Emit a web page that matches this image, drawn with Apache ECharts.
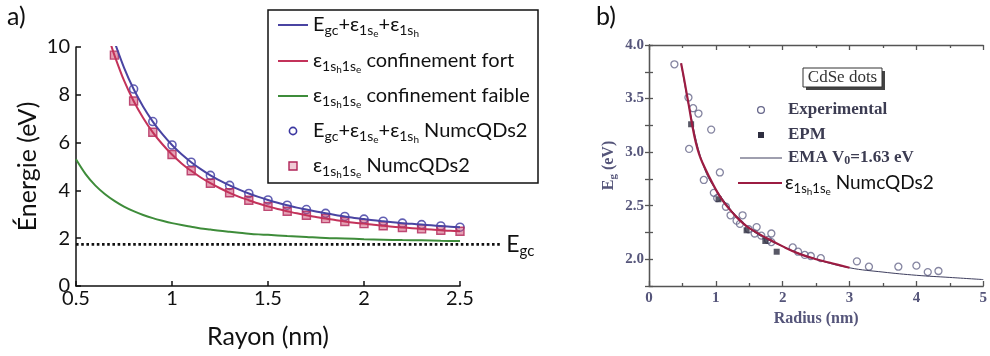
<!DOCTYPE html>
<html><head><meta charset="utf-8">
<script src="https://cdn.jsdelivr.net/npm/echarts@6/dist/echarts.min.js"></script>
<style>html,body{margin:0;padding:0;background:#fff}#c{width:990px;height:356px}</style>
</head><body><div id="c"></div>
<script>
// ---------- Panel a data ----------
const rayonCourbe = [0.68,0.70,0.75,0.80,0.85,0.90,0.95,1.00,1.05,1.10,1.15,1.20,1.25,1.30,1.35,1.40,1.45,1.50,1.55,1.60,1.65,1.70,1.75,1.80,1.85,1.90,1.95,2.00,2.05,2.10,2.15,2.20,2.25,2.30,2.35,2.40,2.45,2.50];
const eTotalCourbe = [10.74,10.23,9.14,8.24,7.50,6.88,6.35,5.90,5.51,5.18,4.89,4.63,4.41,4.21,4.03,3.87,3.73,3.60,3.48,3.38,3.28,3.20,3.12,3.04,2.97,2.91,2.85,2.80,2.75,2.71,2.67,2.63,2.60,2.57,2.54,2.51,2.48,2.46];
const eFortCourbe = [10.15,9.66,8.60,7.74,7.03,6.43,5.93,5.50,5.13,4.82,4.54,4.30,4.09,3.90,3.73,3.59,3.45,3.33,3.22,3.13,3.04,2.96,2.89,2.82,2.76,2.70,2.65,2.61,2.56,2.52,2.48,2.45,2.42,2.39,2.36,2.33,2.31,2.29];
const rayonFaible = [0.50,0.55,0.60,0.65,0.70,0.75,0.80,0.85,0.90,0.95,1.00,1.05,1.10,1.15,1.20,1.25,1.30,1.35,1.40,1.45,1.50,1.60,1.70,1.80,1.90,2.00,2.10,2.20,2.30,2.40,2.50];
const eFaibleCourbe = [5.30,4.68,4.21,3.85,3.56,3.32,3.13,2.97,2.84,2.73,2.63,2.55,2.48,2.41,2.36,2.31,2.27,2.23,2.19,2.16,2.14,2.09,2.05,2.01,1.99,1.96,1.94,1.92,1.91,1.89,1.88];
const rayonPoints = [0.7,0.8,0.9,1.0,1.1,1.2,1.3,1.4,1.5,1.6,1.7,1.8,1.9,2.0,2.1,2.2,2.3,2.4,2.5];
const eTotalPoints = [null,8.24,6.88,5.90,5.18,4.63,4.21,3.87,3.60,3.38,3.20,3.04,2.91,2.80,2.71,2.63,2.57,2.51,2.46];
const eFortPoints = [9.66,7.74,6.43,5.50,4.82,4.30,3.90,3.59,3.33,3.13,2.96,2.82,2.70,2.61,2.52,2.45,2.39,2.33,2.29];
const EGC = 1.74;
const egcRayon = [0.5, 2.72];

// ---------- Panel b data ----------
const rayonNumc = [0.48,0.52,0.56,0.60,0.65,0.70,0.75,0.80,0.90,1.00,1.10,1.20,1.30,1.40,1.50,1.75,2.00,2.25,2.50,2.75,3.00];
const egNumc = [3.83,3.70,3.56,3.42,3.24,3.09,2.98,2.90,2.77,2.65,2.55,2.47,2.40,2.34,2.29,2.20,2.12,2.05,2.00,1.96,1.92];
const rayonEMA = [0.48,0.60,0.80,1.00,1.50,2.00,2.50,3.00,3.50,4.00,4.50,5.00];
const egEMA = [3.83,3.42,2.90,2.65,2.29,2.12,2.00,1.92,1.88,1.85,1.83,1.81];
const expRayon = [0.38,0.59,0.66,0.74,0.93,0.60,1.06,0.82,0.97,1.02,1.15,1.22,1.31,1.40,1.36,1.49,1.61,1.58,1.68,1.83,1.78,1.83,2.15,2.23,2.33,2.42,2.57,3.11,3.29,3.73,4.00,4.17,4.33];
const expEg = [3.82,3.51,3.41,3.36,3.21,3.03,2.81,2.74,2.62,2.57,2.49,2.41,2.36,2.41,2.33,2.28,2.30,2.24,2.22,2.24,2.18,2.16,2.11,2.07,2.04,2.03,2.01,1.98,1.93,1.93,1.94,1.88,1.89];
const epmRayon = [0.63,1.04,1.46,1.74,1.91];
const epmEg = [3.26,2.56,2.27,2.17,2.07];

// tick labels
const xTicksA = [0.5,1,1.5,2,2.5];
const yTicksA = [0,2,4,6,8,10];
const xTicksB = [0,1,2,3,4,5];
const yTicksB = [2.0,2.5,3.0,3.5,4.0];

const pairs = (xs, ys) => xs.map((x, i) => [x, ys[i]]);

const SANS = 'Lato';
const SERIF = 'Liberation Serif';
const bCol = '#55557a';

const C_TOT = '#4a44a2', C_FORT = '#c3325a', C_FAIB = '#3e8c3a';
const C_CIR = '#3b37a0', C_SQ = '#b02458', SQ_FILL = 'rgba(200,60,100,0.6)';
const C_NUMC = '#9c1c42', C_EMA = '#3e3e5e', C_EXP = '#66668a', C_EPM = '#2e2e40';

const richA = {
  m: {fontFamily: SANS, fontSize: 20, lineHeight: 28, fill: '#111', verticalAlign: 'middle'},
  s: {fontFamily: SANS, fontSize: 14, lineHeight: 14, verticalAlign: 'bottom', padding: [0,0,2,0], fill: '#111'},
  ss: {fontFamily: SANS, fontSize: 10, lineHeight: 10, verticalAlign: 'bottom', padding: [0,0,0,0], fill: '#111'}
};
const eps = '{m|ε}{s|1s}{ss|h}{s|1s}{ss|e}';
const labelsA = [
  '{m|E}{s|gc}{m|+ε}{s|1s}{ss|e}{m|+ε}{s|1s}{ss|h}',
  eps + '{m| confinement fort}',
  eps + '{m| confinement faible}',
  '{m|E}{s|gc}{m|+ε}{s|1s}{ss|e}{m|+ε}{s|1s}{ss|h}{m| NumcQDs2}',
  eps + '{m| NumcQDs2}'
];
const richB = {
  b: {fontFamily: SERIF, fontWeight: 'bold', fontSize: 17, lineHeight: 22, fill: '#3c3c52'},
  bs: {fontFamily: SERIF, fontWeight: 'bold', fontSize: 12, lineHeight: 12, verticalAlign: 'bottom', padding: [0,0,2,0], fill: '#3c3c52'},
  m: {fontFamily: SANS, fontSize: 19, lineHeight: 28, fill: '#111'},
  s: {fontFamily: SANS, fontSize: 13, lineHeight: 13, verticalAlign: 'bottom', padding: [0,0,2,0], fill: '#111'},
  ss: {fontFamily: SANS, fontSize: 10, lineHeight: 10, verticalAlign: 'bottom', fill: '#111'}
};
const labelsB = [
  '{b|Experimental}',
  '{b|EPM}',
  '{b|EMA V}{bs|0}{b|=1.63 eV}',
  eps + '{m| NumcQDs2}'
];

// legend layout (pixels)
const rowsA = [25, 61, 96, 131, 166];
const rowsB = [110, 135, 158, 183];

const legendGraphics = [];
// panel a legend
legendGraphics.push({type: 'rect', shape: {x: 268, y: 10, width: 270, height: 173}, style: {fill: 'none', stroke: '#111', lineWidth: 1.5}, z: 1});
[C_TOT, C_FORT, C_FAIB].forEach((c, i) => legendGraphics.push({type: 'line', shape: {x1: 278, y1: rowsA[i], x2: 308, y2: rowsA[i]}, style: {stroke: c, lineWidth: 2}, z: 5}));
legendGraphics.push({type: 'circle', shape: {cx: 293, cy: rowsA[3], r: 3.6}, style: {fill: 'none', stroke: C_CIR, lineWidth: 1.6}, z: 5});
legendGraphics.push({type: 'rect', shape: {x: 289, y: rowsA[4] - 4, width: 8, height: 8}, style: {fill: 'rgba(205,80,115,0.3)', stroke: C_SQ, lineWidth: 1.4}, z: 5});
labelsA.forEach((t, i) => legendGraphics.push({type: 'text', x: 313, y: rowsA[i], z: 5, style: {text: t, rich: richA, verticalAlign: 'middle', align: 'left'}}));
// panel b legend
legendGraphics.push({type: 'circle', shape: {cx: 761, cy: rowsB[0], r: 3.4}, style: {fill: 'none', stroke: C_EXP, lineWidth: 1.3}, z: 5});
legendGraphics.push({type: 'rect', shape: {x: 758, y: rowsB[1] - 3, width: 6, height: 6}, style: {fill: C_EPM}, z: 5});
legendGraphics.push({type: 'line', shape: {x1: 740, y1: rowsB[2], x2: 782, y2: rowsB[2]}, style: {stroke: C_EMA, lineWidth: 1}, z: 5});
legendGraphics.push({type: 'line', shape: {x1: 738, y1: rowsB[3], x2: 782, y2: rowsB[3]}, style: {stroke: C_NUMC, lineWidth: 2.2}, z: 5});
labelsB.forEach((t, i) => legendGraphics.push({type: 'text', x: i === 3 ? 785 : 788, y: rowsB[i], z: 5, style: {text: t, rich: richB, verticalAlign: 'middle', align: 'left'}}));

const axA = {color: '#111', width: 1.5};
const axB = {color: '#555', width: 1.3};

const chart = echarts.init(document.getElementById('c'), null, {renderer: 'canvas'});
chart.setOption({
  animation: false,
  backgroundColor: '#fff',
  grid: [
    {left: 76, top: 47, width: 384, height: 239},
    {left: 649, top: 45, width: 339, height: 241},
    {left: 76, top: 47, width: 384 * (egcRayon[1] - 0.5) / 2, height: 239}
  ],
  xAxis: [
    {gridIndex: 0, type: 'value', min: 0.5, max: 2.5, interval: 0.5,
     axisLine: {lineStyle: axA}, axisTick: {inside: true, length: 5, lineStyle: axA},
     axisLabel: {fontFamily: SANS, fontSize: 20, color: '#111', margin: 3, customValues: xTicksA},
     splitLine: {show: false},
     name: 'Rayon (nm)', nameLocation: 'middle', nameGap: 38,
     nameTextStyle: {fontFamily: SANS, fontSize: 25, color: '#111'}},
    {gridIndex: 1, type: 'value', min: 0, max: 5, interval: 1,
     axisLine: {lineStyle: axB}, axisTick: {inside: true, length: 5, lineStyle: axB},
     minorTick: {show: true, splitNumber: 2, length: 3, lineStyle: axB},
     axisLabel: {fontFamily: SERIF, fontWeight: 'bold', fontSize: 15, color: bCol, margin: 5, customValues: xTicksB},
     splitLine: {show: false},
     name: 'Radius (nm)', nameLocation: 'middle', nameGap: 24,
     nameTextStyle: {fontFamily: SERIF, fontWeight: 'bold', fontSize: 16, color: bCol}},
    {gridIndex: 1, type: 'value', min: 0, max: 5, interval: 1, position: 'top',
     axisLine: {lineStyle: axB}, axisTick: {inside: true, length: 5, lineStyle: axB},
     minorTick: {show: true, splitNumber: 2, length: 3, lineStyle: axB},
     axisLabel: {show: false}, splitLine: {show: false}},
    {gridIndex: 2, type: 'value', min: egcRayon[0], max: egcRayon[1], show: false}
  ],
  yAxis: [
    {gridIndex: 0, type: 'value', min: 0, max: 10, interval: 2,
     axisLine: {show: true, lineStyle: axA}, axisTick: {show: true, inside: true, length: 5, lineStyle: axA},
     axisLabel: {fontFamily: SANS, fontSize: 20, color: '#111', margin: 6, customValues: yTicksA},
     splitLine: {show: false},
     name: 'Énergie (eV)', nameLocation: 'middle', nameGap: 36,
     nameTextStyle: {fontFamily: SANS, fontSize: 25, color: '#111'}},
    {gridIndex: 1, type: 'value', min: 1.75, max: 4.0, interval: 0.25,
     axisLine: {show: true, lineStyle: axB},
     axisTick: {show: true, inside: true, length: 4, lineStyle: axB},
     axisLabel: {fontFamily: SERIF, fontWeight: 'bold', fontSize: 15, color: bCol, margin: 5,
       customValues: yTicksB, formatter: v => v.toFixed(1)},
     splitLine: {show: false},
     name: '{m|E}{s|g}{m| (eV)}', nameLocation: 'middle', nameGap: 30,
     nameTextStyle: {rich: {
       m: {fontFamily: SERIF, fontWeight: 'bold', fontSize: 16, lineHeight: 20, color: bCol},
       s: {fontFamily: SERIF, fontWeight: 'bold', fontSize: 11, lineHeight: 11, verticalAlign: 'bottom', color: bCol}
     }}},
    {gridIndex: 1, type: 'value', min: 1.75, max: 4.0, interval: 0.25, position: 'right',
     axisLine: {show: true, lineStyle: axB},
     axisTick: {show: true, inside: true, length: 4, lineStyle: axB},
     axisLabel: {show: false}, splitLine: {show: false}},
    {gridIndex: 2, type: 'value', min: 0, max: 10, show: false}
  ],
  graphic: [
    {type: 'text', left: 7, top: 4, style: {text: 'a)', fontFamily: SANS, fontSize: 25, fill: '#111'}},
    {type: 'text', left: 596, top: 4, style: {text: 'b)', fontFamily: SANS, fontSize: 25, fill: '#111'}},
    {type: 'rect', shape: {x: 806, y: 71, width: 79, height: 19}, style: {fill: '#444'}, z: 5},
    {type: 'rect', shape: {x: 803, y: 68, width: 79, height: 19}, style: {fill: '#fff', stroke: '#333', lineWidth: 1}, z: 6},
    {type: 'text', x: 842.5, y: 78, z: 7, style: {text: 'CdSe dots', fontFamily: SERIF, fontSize: 17, fill: '#333', align: 'center', verticalAlign: 'middle'}}
  ].concat(legendGraphics),
  series: [
    {name: 'faible', type: 'line', xAxisIndex: 0, yAxisIndex: 0, data: pairs(rayonFaible, eFaibleCourbe),
     symbol: 'none', smooth: 0.3, lineStyle: {color: C_FAIB, width: 2}},
    {name: 'egc', type: 'line', xAxisIndex: 3, yAxisIndex: 3,
     data: pairs(egcRayon, egcRayon.map(() => EGC)), symbol: 'none',
     lineStyle: {color: '#111', width: 2.6, type: 'dotted'},
     endLabel: {show: true, distance: 4, formatter: '{e|E}{g|gc}',
       rich: {e: {fontFamily: SANS, fontSize: 23, lineHeight: 28, color: '#111'},
              g: {fontFamily: SANS, fontSize: 15, lineHeight: 15, verticalAlign: 'bottom', color: '#111'}}}},
    {name: 'tot', type: 'line', xAxisIndex: 0, yAxisIndex: 0, data: pairs(rayonCourbe, eTotalCourbe),
     symbol: 'none', smooth: 0.3, lineStyle: {color: C_TOT, width: 2}},
    {name: 'fort', type: 'line', xAxisIndex: 0, yAxisIndex: 0, data: pairs(rayonCourbe, eFortCourbe),
     symbol: 'none', smooth: 0.3, lineStyle: {color: C_FORT, width: 2}},
    {name: 'totN', type: 'scatter', xAxisIndex: 0, yAxisIndex: 0, data: pairs(rayonPoints, eTotalPoints),
     symbol: 'circle', symbolSize: 8,
     itemStyle: {color: 'rgba(0,0,0,0)', borderColor: C_CIR, borderWidth: 1.6}},
    {name: 'fortN', type: 'scatter', xAxisIndex: 0, yAxisIndex: 0, data: pairs(rayonPoints, eFortPoints),
     symbol: 'rect', symbolSize: 8,
     itemStyle: {color: SQ_FILL, borderColor: C_SQ, borderWidth: 1.4}},

    {name: 'EMA', type: 'line', xAxisIndex: 1, yAxisIndex: 1, data: pairs(rayonEMA, egEMA),
     symbol: 'none', smooth: 0.4, lineStyle: {color: C_EMA, width: 1}},
    {name: 'Experimental', type: 'scatter', xAxisIndex: 1, yAxisIndex: 1, data: pairs(expRayon, expEg),
     symbol: 'circle', symbolSize: 7,
     itemStyle: {color: 'rgba(0,0,0,0)', borderColor: C_EXP, borderWidth: 1.3}},
    {name: 'EPM', type: 'scatter', xAxisIndex: 1, yAxisIndex: 1, data: pairs(epmRayon, epmEg),
     symbol: 'rect', symbolSize: 6, itemStyle: {color: C_EPM}},
    {name: 'Numc', type: 'line', xAxisIndex: 1, yAxisIndex: 1, data: pairs(rayonNumc, egNumc),
     symbol: 'none', smooth: 0.4, lineStyle: {color: C_NUMC, width: 2.2}}
  ]
});
</script></body></html>
